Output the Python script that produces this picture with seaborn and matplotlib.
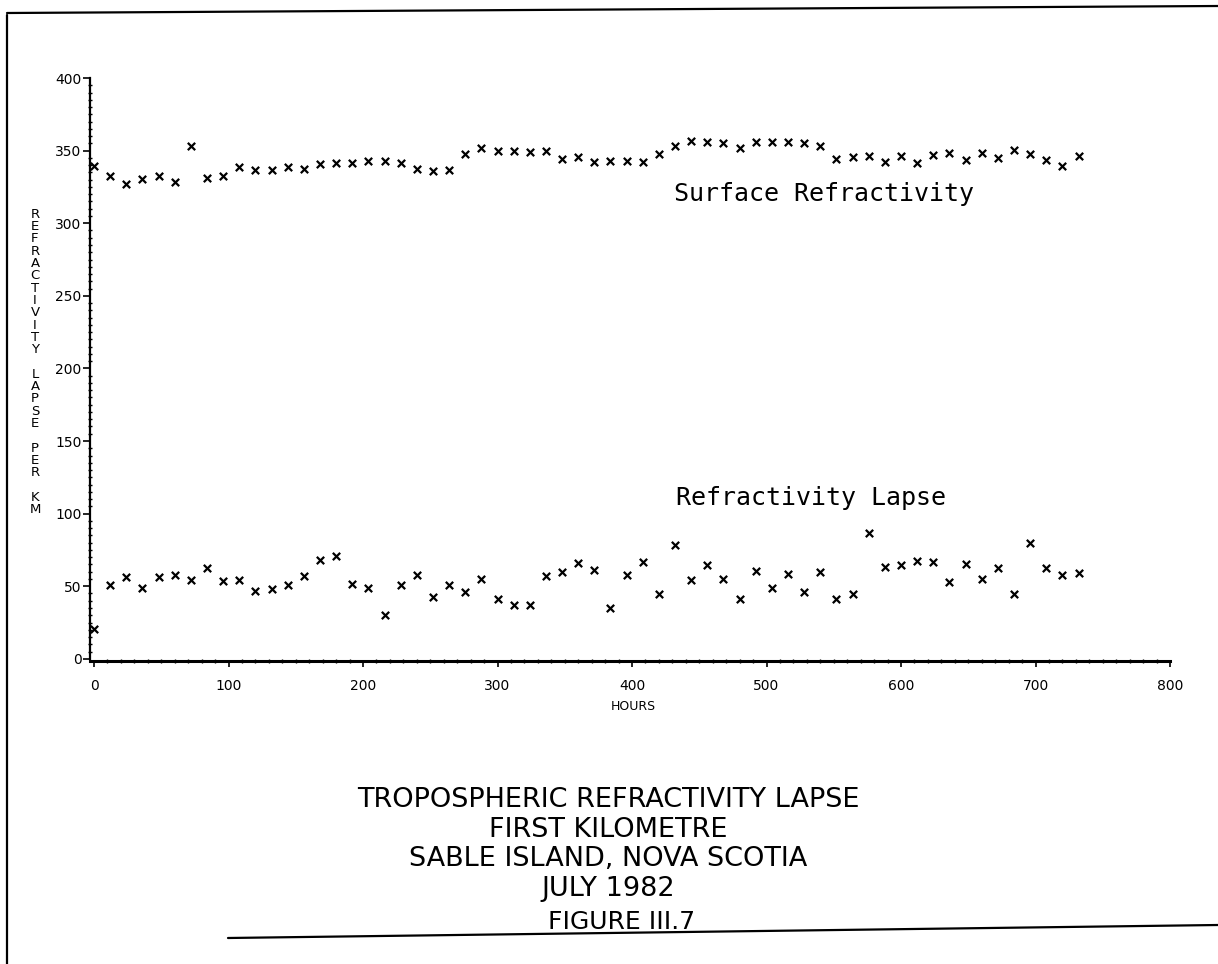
import matplotlib
matplotlib.use("Agg")
import matplotlib.pyplot as plt
from matplotlib.lines import Line2D
from matplotlib.ticker import MultipleLocator
import seaborn as sns
import pandas as pd

# Observation times (hours from 1 July 1982, 00 and 12 UTC soundings)
hours = [0, 12, 24, 36, 48, 60, 72, 84, 96, 108,
         120, 132, 144, 156, 168, 180, 192, 204, 216, 228,
         240, 252, 264, 276, 288, 300, 312, 324, 336, 348,
         360, 372, 384, 396, 408, 420, 432, 444, 456, 468,
         480, 492, 504, 516, 528, 540, 552, 564, 576, 588,
         600, 612, 624, 636, 648, 660, 672, 684, 696, 708,
         720, 732]

# Surface refractivity (N units)
surface = [339.7, 332.6, 326.7, 330.2, 332.8, 328.7, 353.2, 331.2, 332.7, 338.9,
           336.5, 336.5, 338.9, 337.1, 341.1, 341.2, 341.7, 342.7, 343.0, 341.4,
           337.4, 335.8, 336.6, 347.7, 351.5, 349.9, 349.8, 349.1, 349.6, 344.2,
           345.4, 342.3, 342.6, 342.6, 342.3, 348.0, 353.4, 356.5, 355.8, 355.5,
           351.8, 355.8, 355.7, 356.2, 355.3, 353.3, 344.2, 345.9, 346.2, 342.3,
           346.3, 341.3, 346.9, 348.4, 343.4, 348.5, 344.6, 350.7, 347.6, 343.3,
           339.2, 346.4]

# Refractivity lapse over the first kilometre (N units per km)
lapse = [20.3, 51.0, 56.6, 49.0, 56.3, 57.9, 54.6, 62.7, 53.3, 54.1,
         47.0, 48.0, 50.6, 56.7, 68.0, 70.6, 51.8, 48.5, 29.9, 50.9,
         57.8, 42.3, 50.8, 46.1, 55.3, 40.9, 37.3, 37.4, 56.7, 59.8,
         65.7, 60.9, 35.0, 57.8, 66.8, 44.4, 78.7, 54.2, 64.6, 55.2,
         41.3, 60.2, 48.7, 58.2, 46.1, 59.8, 41.0, 44.3, 86.9, 63.5,
         64.9, 67.1, 66.9, 53.0, 65.6, 55.1, 62.4, 44.9, 80.0, 62.8,
         57.8, 59.3]

title_lines = ["TROPOSPHERIC REFRACTIVITY LAPSE",
               "FIRST KILOMETRE",
               "SABLE ISLAND, NOVA SCOTIA",
               "JULY 1982"]
figure_label = "FIGURE III.7"
y_label = "REFRACTIVITY LAPSE PER KM"
x_label = "HOURS"

df = pd.DataFrame({"hours": hours, "surface": surface, "lapse": lapse})

sns.set_theme(style="ticks")
plt.rcParams["font.family"] = ["DejaVu Sans"]

W, H = 1218, 964
fig = plt.figure(figsize=(W / 100, H / 100), dpi=100)
fig.patch.set_facecolor("white")

# axes placed in pixel terms
left_px, right_px, top_px, bottom_px = 90, 1170, 78, 661
ax = fig.add_axes([left_px / W, 1 - bottom_px / H,
                   (right_px - left_px) / W, (bottom_px - top_px) / H])
ax.set_facecolor("white")

for col in ["surface", "lapse"]:
    sns.scatterplot(data=df, x="hours", y=col, marker="x", s=28,
                    color="black", linewidth=1.6, ax=ax, legend=False,
                    zorder=3)

ax.set_xlim(-3, 800)
ax.set_ylim(-1.5, 400)
ax.xaxis.set_major_locator(MultipleLocator(100))
ax.xaxis.set_minor_locator(MultipleLocator(10))
ax.yaxis.set_major_locator(MultipleLocator(50))
ax.yaxis.set_minor_locator(MultipleLocator(5))

for s in ["top", "right"]:
    ax.spines[s].set_visible(False)
ax.spines["left"].set_linewidth(1.6)
ax.spines["bottom"].set_linewidth(2.2)
ax.spines["left"].set_color("black")
ax.spines["bottom"].set_color("black")
ax.spines["left"].set_bounds(0, 400)
ax.spines["bottom"].set_bounds(-3, 800)

ax.tick_params(axis="y", which="major", direction="out", length=5,
               width=1.2, color="black", labelsize=10, pad=1,
               labelcolor="black")
ax.tick_params(axis="x", which="major", direction="out", length=4,
               width=1.2, color="black", labelsize=10, pad=9,
               labelcolor="black")
ax.tick_params(which="minor", direction="inout", length=3, width=1.0,
               color="black")
ax.set_xlabel("")
ax.set_ylabel("")

# series labels
ax.text(431, 315, "Surface Refractivity", family="DejaVu Sans Mono",
        fontsize=18, va="baseline", ha="left", color="black")
ax.text(433, 106, "Refractivity Lapse", family="DejaVu Sans Mono",
        fontsize=18, va="baseline", ha="left", color="black")

# stacked vertical axis title
fig.text(35 / W, 1 - 362 / H, "\n".join(y_label), ha="center", va="center",
         fontsize=9.5, linespacing=0.93, color="black")
fig.text(633 / W, 1 - 706 / H, x_label, ha="center", va="center",
         fontsize=9, color="black")

# caption block
caption_x = 608
caption_y = [800, 830, 859, 889]
for txt, yp in zip(title_lines, caption_y):
    fig.text(caption_x / W, 1 - yp / H, txt, ha="center", va="center",
             fontsize=19.5, color="black")
fig.text(622 / W, 1 - 922 / H, figure_label, ha="center", va="center",
         fontsize=18, color="black")

# page frame
frame = dict(color="black", linewidth=1.6, transform=fig.transFigure)
fig.add_artist(Line2D([7 / W, 7 / W], [1 - 15 / H, 0], **frame))
fig.add_artist(Line2D([7 / W, 1.0], [1 - 13 / H, 1 - 6 / H], **frame))
fig.add_artist(Line2D([228 / W, 1.0], [1 - 938 / H, 1 - 925 / H], **frame))

fig.savefig("out.png", dpi=100, facecolor="white")
